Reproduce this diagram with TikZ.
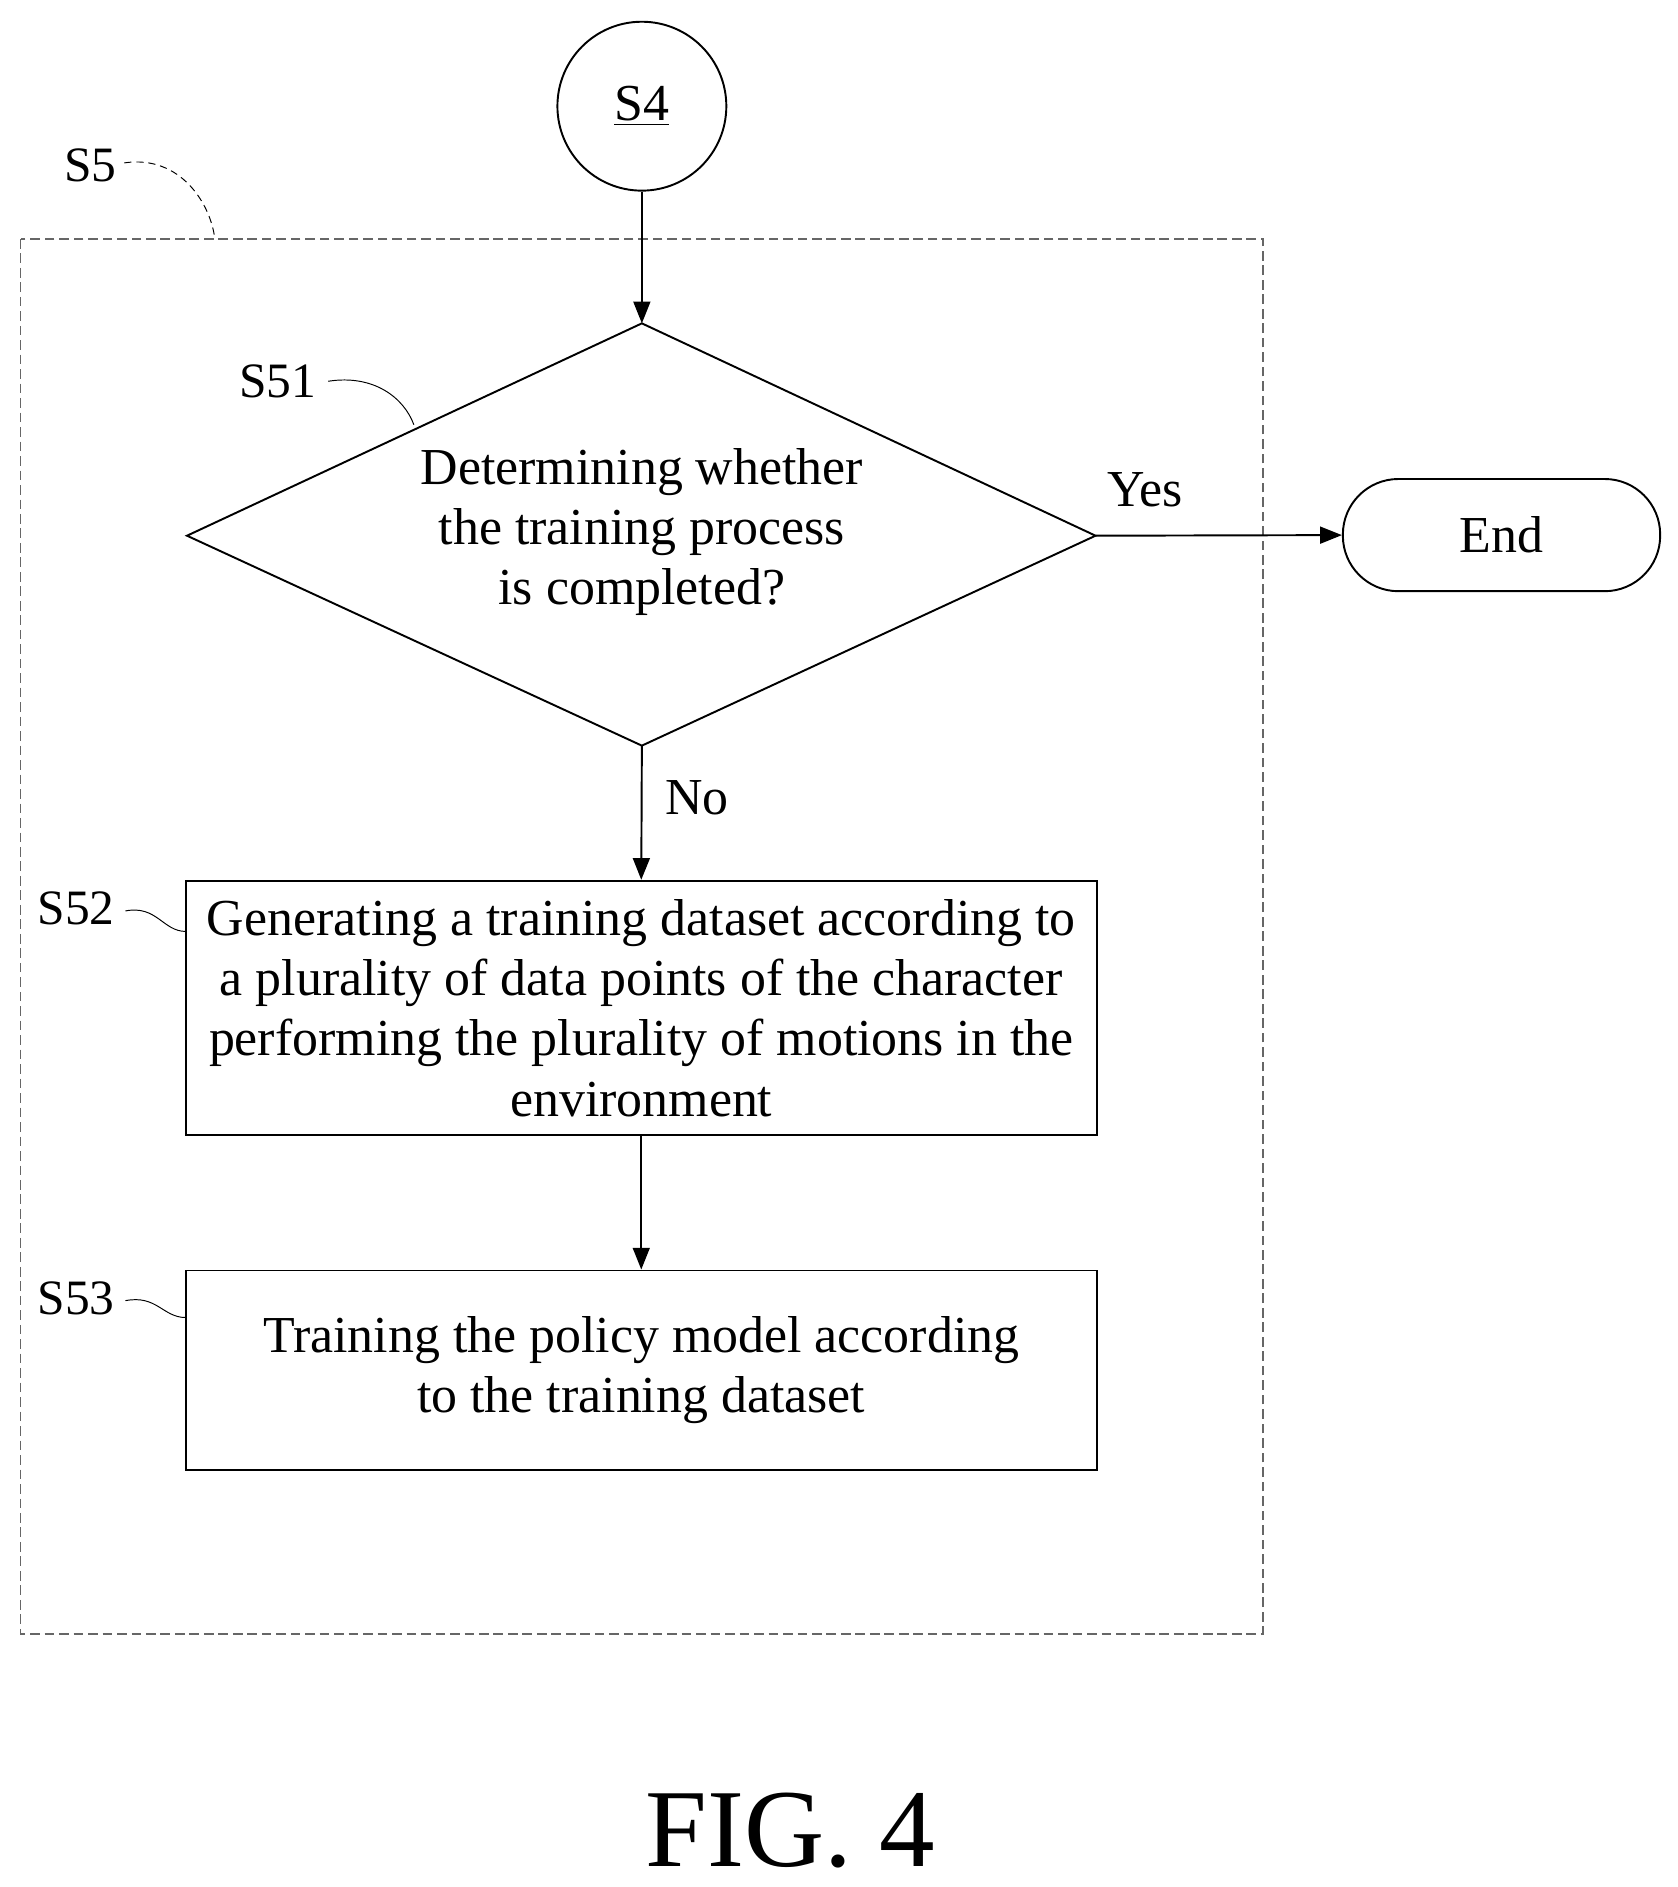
\documentclass[tikz,border=0pt]{standalone}
\usepackage{fontspec}
\setmainfont{Liberation Serif}
\usetikzlibrary{arrows.meta}
\begin{document}
\begin{tikzpicture}[x=0.5pt,y=-0.5pt,
  every node/.style={font=\fontsize{21.5}{25}\selectfont},
  ln/.style={line width=0.8pt},
  arr/.style={ln,-{Triangle[length=9pt,width=7pt]}},
  lbl/.style={font=\fontsize{20.5}{25}\selectfont}]
\useasboundingbox (0,0) rectangle (1390,1564);
\draw[ln,dash pattern=on 4pt off 2pt,gray!80!black] (17,198) rectangle (1047,1354);
\node[circle,draw,ln,minimum size=70pt,inner sep=0] (s4) at (532,88) {\underline{S4}};
\coordinate (dt) at (532,268);
\coordinate (db) at (532,618);
\coordinate (dl) at (155,444);
\coordinate (dr) at (908,444);
\draw[ln] (dt) -- (dr) -- (db) -- (dl) -- cycle;
\node[align=center] (d) at (532,441) {Determining whether\\the training process\\is completed?};
\node[draw,ln,rounded corners=23pt,minimum width=131.5pt,minimum height=46.5pt] (end) at (1244.5,443.5) {End};
\node[draw,ln,minimum width=377.5pt,minimum height=105.5pt,align=center,inner sep=0] (b2) at (531.5,835.5) {Generating a training dataset according to\\a plurality of data points of the character\\performing the plurality of motions in the\\environment};
\node[draw,ln,minimum width=377.5pt,minimum height=82.5pt,align=center] (b3) at (531.5,1135.5) {Training the policy model according\\to the training dataset};
\draw[arr] (s4) -- (dt);
\draw[arr] (dr) -- (end.west) node[pos=0.2,above=8pt] {Yes};
\draw[arr] (db) -- (b2.north) node[pos=0.39,right=6pt] {No};
\draw[arr] (b2) -- (b3);
\node[lbl] (l5) at (75,137) {S5};
\node[lbl] (l51) at (230,316) {S51};
\node[lbl] (l52) at (63,753) {S52};
\node[lbl] (l53) at (63,1076) {S53};
\draw[ln,dash pattern=on 3pt off 2pt,thin] (103,135) .. controls (150,128) and (175,170) .. (178,198);
\draw[thin] (272,316) .. controls (310,310) and (335,330) .. (343,352);
\draw[thin] (104,755) .. controls (130,750) and (135,772) .. (154,772);
\draw[thin] (104,1078) .. controls (130,1073) and (135,1092) .. (154,1092);
\node[font=\fontsize{46}{50}\selectfont] (fig) at (655,1517) {FIG. 4};
\end{tikzpicture}
\end{document}
